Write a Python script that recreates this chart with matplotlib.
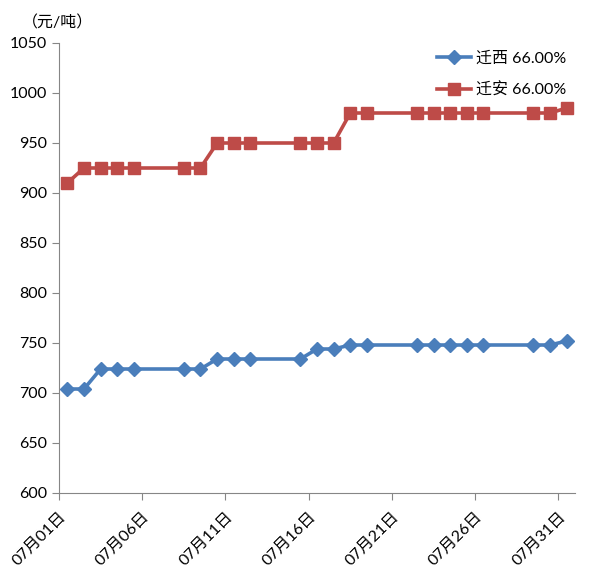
import matplotlib.pyplot as plt
import pandas as pd

plt.rcParams['font.family'] = ['Lato', 'Noto Sans CJK SC', 'DejaVu Sans']

# trading days in July
days = [1, 2, 3, 4, 5, 8, 9, 10, 11, 12, 15, 16, 17, 18, 19,
        22, 23, 24, 25, 26, 29, 30, 31]
qianxi = [704, 704, 724, 724, 724, 724, 724, 734, 734, 734, 734, 744, 744, 748, 748,
          748, 748, 748, 748, 748, 748, 748, 752]
qianan = [910, 925, 925, 925, 925, 925, 925, 950, 950, 950, 950, 950, 950, 980, 980,
          980, 980, 980, 980, 980, 980, 980, 985]
tick_days = [1, 6, 11, 16, 21, 26, 31]
tick_labels = [f"07月{d:02d}日" for d in tick_days]

df = pd.DataFrame({"day": days, "迁西 66.00%": qianxi, "迁安 66.00%": qianan})
# points sit in the middle of each day slot
x = df["day"] - 0.5

fig = plt.figure(figsize=(6.03, 5.70), dpi=100)
ax = fig.add_axes([59 / 603, 77 / 570, 516 / 603, 450 / 570])

ax.plot(x, df["迁西 66.00%"], color="#4A7EBB", lw=2.6, marker="D", ms=7,
        label="迁西 66.00%")
ax.plot(x, df["迁安 66.00%"], color="#BE4B48", lw=2.6, marker="s", ms=9,
        label="迁安 66.00%")

ax.set_xlim(0, 31)
ax.set_ylim(600, 1050)
ax.set_yticks(range(600, 1051, 50))
ax.set_xticks([d - 1 for d in tick_days])
ax.set_xticklabels(tick_labels, rotation=45, ha="right", va="top",
                   rotation_mode="anchor")
ax.tick_params(axis="both", labelsize=11.5, color="#868686", length=5)
ax.tick_params(axis="x", pad=7)

for s in ["top", "right"]:
    ax.spines[s].set_visible(False)
for s in ["left", "bottom"]:
    ax.spines[s].set_color("#868686")

fig.text(22 / 603, 1 - 23 / 570, "（元/吨）", fontsize=11.5, va="center")

ax.legend(loc="upper left", bbox_to_anchor=(364 / 516, 1.013), frameon=False,
          fontsize=11.5, handlelength=2.1, handletextpad=0.3, labelspacing=1.05)

fig.savefig("out.png", dpi=100)
